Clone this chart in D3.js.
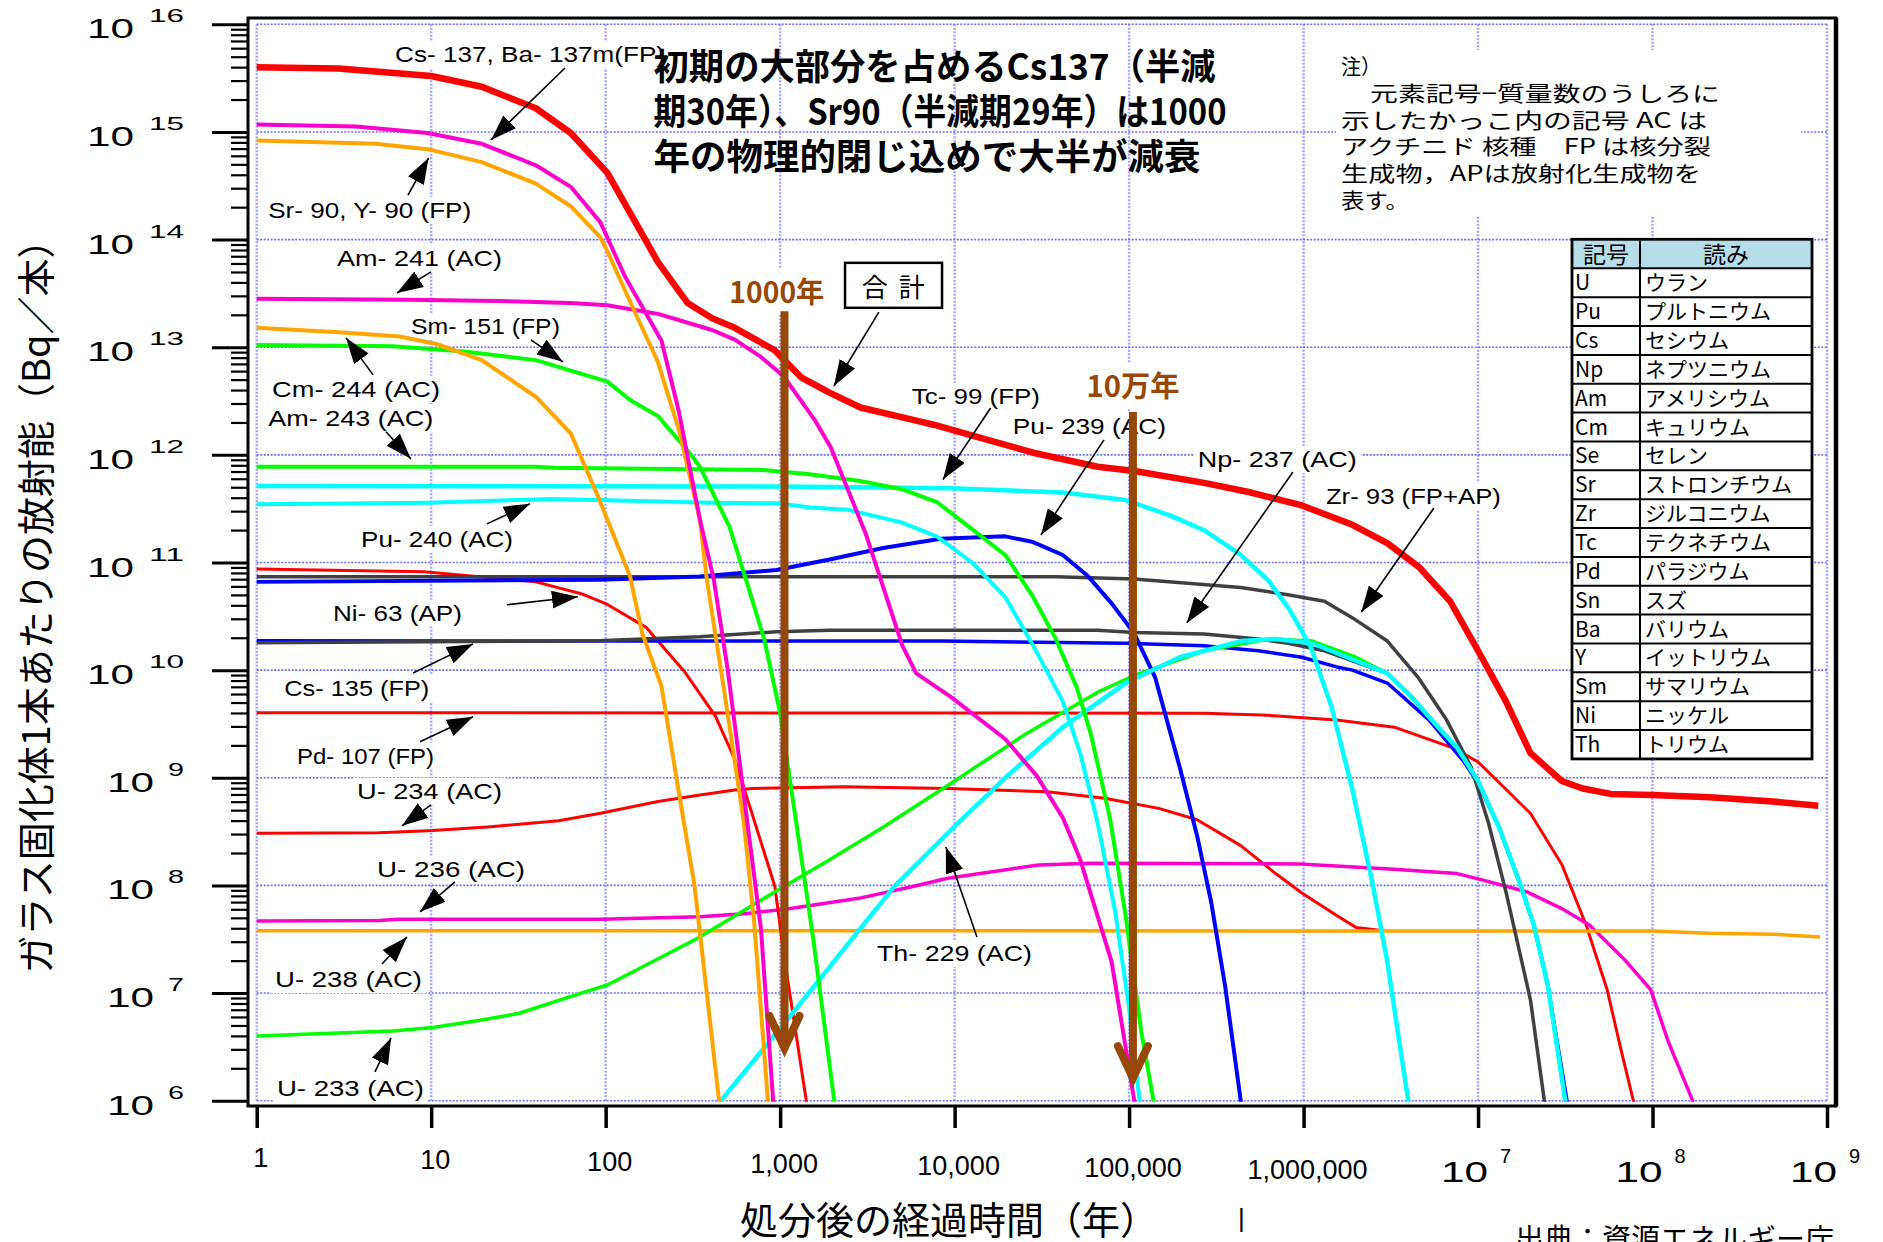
<!DOCTYPE html>
<html>
<head>
<meta charset="utf-8">
<script src="https://d3js.org/d3.v7.min.js"></script>
<style>
body { margin: 0; background: #fff; }
text { font-family: "Liberation Sans", Arial, sans-serif; fill: #000; }
.jp { font-family: "Noto Sans CJK JP", sans-serif; }
</style>
</head>
<body>
<div id="chart"></div>
<script>
// every point is [log10(years after disposal), log10(Bq per canister)]
var total  = [[0,15.60],[0.47,15.59],[1.0,15.52],[1.29,15.42],[1.6,15.22],[1.8,14.99],[2.01,14.62],[2.3,13.79],[2.47,13.41],[2.61,13.27],[2.74,13.18],[2.97,12.97],[3.12,12.72],[3.28,12.58],[3.46,12.44],[3.75,12.33],[3.88,12.28],[4.21,12.13],[4.45,12.02],[4.82,11.89],[5.03,11.85],[5.43,11.74],[5.70,11.65],[5.99,11.53],[6.28,11.35],[6.48,11.18],[6.66,10.96],[6.84,10.64],[7.0,10.18],[7.16,9.71],[7.30,9.23],[7.48,8.97],[7.60,8.90],[7.76,8.85],[8.0,8.84],[8.33,8.82],[8.69,8.78],[8.95,8.74]];
var cs137  = [[0,15.07],[0.57,15.05],[0.98,14.99],[1.29,14.89],[1.6,14.69],[1.8,14.49],[1.97,14.16],[2.11,13.66],[2.32,13.06],[2.42,12.40],[2.54,11.40],[2.62,10.84],[2.70,10.0],[2.81,8.61],[2.89,7.6],[2.96,6.0],[3.0,5.3]];
var sr90   = [[0,14.92],[0.68,14.89],[0.98,14.84],[1.29,14.72],[1.6,14.52],[1.8,14.31],[1.97,14.02],[2.01,13.89],[2.13,13.46],[2.3,12.86],[2.42,12.23],[2.54,11.40],[2.58,10.84],[2.68,9.8],[2.79,8.61],[2.85,7.68],[2.93,6.0],[2.96,5.4]];
var am241  = [[0,13.45],[0.86,13.44],[1.39,13.43],[1.8,13.41],[2.01,13.39],[2.3,13.31],[2.61,13.16],[2.74,13.07],[2.89,12.91],[3.02,12.73],[3.2,12.32],[3.29,12.07],[3.49,11.27],[3.70,10.23],[3.78,9.97],[3.98,9.75],[4.29,9.36],[4.47,9.02],[4.62,8.63],[4.72,8.24],[4.90,7.29],[5.03,6.0],[5.07,5.6]];
var cm244  = [[0,13.18],[0.47,13.14],[0.82,13.10],[1.03,13.03],[1.29,12.88],[1.6,12.54],[1.8,12.2],[1.96,11.6],[2.14,10.87],[2.21,10.34],[2.32,9.85],[2.42,8.86],[2.51,7.99],[2.65,6.0],[2.7,5.5]];
var sm151  = [[0,13.02],[0.78,13.01],[1.19,12.96],[1.6,12.88],[2.01,12.68],[2.14,12.51],[2.3,12.36],[2.48,12.02],[2.54,11.89],[2.71,11.33],[2.81,10.81],[2.91,10.28],[3.0,9.6],[3.09,8.61],[3.19,7.5],[3.31,6.0],[3.34,5.6]];
var am243  = [[0,11.89],[1.6,11.89],[1.7,11.88],[2.9,11.86],[3.17,11.82],[3.45,11.76],[3.7,11.68],[3.9,11.56],[4.1,11.31],[4.29,11.07],[4.45,10.68],[4.58,10.29],[4.7,9.84],[4.78,9.41],[4.89,8.63],[4.98,7.72],[5.07,6.64],[5.14,6.0],[5.17,5.7]];
var tc99   = [[0,11.71],[3.0,11.705],[3.98,11.69],[4.62,11.65],[4.98,11.58],[5.23,11.44],[5.43,11.30],[5.64,11.07],[5.80,10.83],[5.92,10.56],[6.04,10.22],[6.16,9.66],[6.28,8.89],[6.40,7.98],[6.48,7.29],[6.54,6.64],[6.60,6.0],[6.63,5.6]];
var pu240  = [[0,11.54],[0.98,11.556],[1.7,11.59],[2.62,11.556],[2.99,11.55],[3.17,11.51],[3.39,11.49],[3.7,11.37],[3.9,11.24],[4.1,11.0],[4.29,10.68],[4.45,10.23],[4.62,9.71],[4.72,9.23],[4.82,8.58],[4.92,7.76],[5.0,6.86],[5.06,6.0],[5.09,5.6]];
var pu239  = [[0,10.82],[1.96,10.84],[2.54,10.87],[2.98,10.93],[3.29,11.03],[3.59,11.135],[3.92,11.22],[4.29,11.243],[4.45,11.19],[4.62,11.07],[4.76,10.88],[4.9,10.62],[5.03,10.34],[5.15,9.93],[5.29,9.10],[5.39,8.46],[5.47,7.85],[5.55,7.07],[5.64,6.0],[5.67,5.6]];
var zr93   = [[0,10.868],[4.58,10.867],[5.03,10.846],[5.64,10.768],[5.91,10.70],[6.12,10.64],[6.3,10.465],[6.48,10.27],[6.66,9.925],[6.82,9.536],[6.96,9.10],[7.06,8.58],[7.16,7.94],[7.30,6.94],[7.38,6.0],[7.41,5.6]];
var np237  = [[0,10.255],[1.96,10.273],[2.54,10.31],[2.98,10.357],[3.29,10.37],[4.82,10.37],[5.03,10.35],[5.43,10.336],[5.74,10.29],[5.91,10.25],[6.12,10.18],[6.48,9.97],[6.62,9.75],[6.76,9.49],[6.88,9.276],[7.0,8.97],[7.12,8.54],[7.24,8.02],[7.32,7.63],[7.40,7.07],[7.50,6.0],[7.53,5.6]];
var cs135  = [[0,10.273],[2.98,10.27],[3.92,10.27],[4.98,10.25],[5.43,10.227],[5.74,10.18],[5.99,10.12],[6.19,10.03],[6.28,10.0],[6.48,9.88],[6.72,9.536],[6.92,9.147],[7.0,8.95],[7.12,8.54],[7.24,8.02],[7.32,7.63],[7.40,7.07],[7.51,6.0],[7.54,5.6]];
var u233   = [[0,6.60],[0.78,6.647],[1.01,6.68],[1.29,6.75],[1.5,6.81],[1.86,7.0],[2.01,7.075],[2.29,7.31],[2.54,7.52],[2.99,7.96],[3.25,8.205],[3.59,8.54],[4.0,8.97],[4.41,9.41],[4.82,9.795],[5.03,9.95],[5.43,10.18],[5.80,10.29],[6.05,10.27],[6.3,10.12],[6.48,9.97],[6.62,9.75],[6.76,9.49],[6.88,9.28],[7.0,8.97],[7.12,8.54],[7.24,8.02],[7.32,7.63],[7.40,7.07],[7.50,6.0],[7.53,5.6]];
var th229  = [[2.62,5.5],[2.66,6.0],[3.04,6.75],[3.45,7.58],[3.66,8.0],[4.0,8.55],[4.29,9.0],[4.62,9.47],[4.98,9.88],[5.29,10.12],[5.64,10.27],[5.84,10.29],[6.05,10.25],[6.28,10.1],[6.48,9.97],[6.62,9.75],[6.76,9.49],[6.88,9.28],[7.0,8.97],[7.12,8.54],[7.24,8.02],[7.32,7.63],[7.40,7.07],[7.50,6.0],[7.53,5.6]];
var ni63   = [[0,10.94],[0.96,10.915],[1.6,10.82],[1.86,10.71],[2.01,10.61],[2.23,10.40],[2.45,9.99],[2.63,9.57],[2.74,9.17],[2.85,8.61],[2.97,7.99],[3.02,7.37],[3.15,6.0],[3.18,5.6]];
var pd107  = [[0,9.605],[5.43,9.60],[5.80,9.58],[6.19,9.536],[6.52,9.47],[6.86,9.276],[7.0,9.147],[7.30,8.67],[7.48,8.195],[7.62,7.63],[7.74,7.03],[7.82,6.47],[7.89,6.0],[7.93,5.6]];
var u234   = [[0,8.484],[0.70,8.49],[1.01,8.51],[1.34,8.545],[1.73,8.60],[1.97,8.67],[2.30,8.78],[2.54,8.84],[2.74,8.887],[2.84,8.90],[3.37,8.917],[3.96,8.90],[4.53,8.87],[4.86,8.81],[5.17,8.716],[5.39,8.61],[5.64,8.37],[5.84,8.11],[5.99,7.93],[6.19,7.72],[6.30,7.61],[6.46,7.579]];
var u238   = [[0,7.579],[8.0,7.577],[8.33,7.556],[8.69,7.547],[8.96,7.52]];
var u236   = [[0,7.67],[0.7,7.675],[0.81,7.685],[1.97,7.685],[2.54,7.71],[2.81,7.74],[3.04,7.78],[3.45,7.88],[3.76,7.99],[3.96,8.066],[4.48,8.19],[4.78,8.205],[5.98,8.20],[6.52,8.15],[6.88,8.11],[7.04,8.045],[7.28,7.94],[7.48,7.785],[7.64,7.63],[7.84,7.31],[7.99,7.03],[8.09,6.55],[8.23,6.0],[8.26,5.7]];

var tableSymbols  = ["U","Pu","Cs","Np","Am","Cm","Se","Sr","Zr","Tc","Pd","Sn","Ba","Y","Sm","Ni","Th"];
var tableReadings = ["ウラン","プルトニウム","セシウム","ネプツニウム","アメリシウム","キュリウム","セレン","ストロンチウム","ジルコニウム","テクネチウム","パラジウム","スズ","バリウム","イットリウム","サマリウム","ニッケル","トリウム"];

var RED = "#ff0000", MAG = "#ff00cc", ORA = "#ffa500", GRN = "#00ff00",
    CYA = "#00ffff", BLU = "#0000ff", GRY = "#404040", BRN = "#974806";

// drawing order and style of each series
var series = [
  {d: pd107, c: RED, w: 3}, {d: u234, c: RED, w: 3}, {d: u236, c: MAG, w: 3.5},
  {d: u238, c: ORA, w: 3.5}, {d: ni63, c: RED, w: 3}, {d: cs135, c: BLU, w: 3.5},
  {d: np237, c: GRY, w: 3.5}, {d: u233, c: GRN, w: 3.5}, {d: zr93, c: GRY, w: 3.5},
  {d: pu239, c: BLU, w: 4}, {d: th229, c: CYA, w: 4.5}, {d: tc99, c: CYA, w: 4.5},
  {d: pu240, c: CYA, w: 4}, {d: am243, c: GRN, w: 4}, {d: sm151, c: GRN, w: 4},
  {d: cm244, c: ORA, w: 4}, {d: am241, c: MAG, w: 4}, {d: sr90, c: ORA, w: 4},
  {d: cs137, c: MAG, w: 4}, {d: total, c: RED, w: 6.5}
];

// nuclide labels: text start and arrows in the same log10 units
var labels = [
  {t: "Cs- 137, Ba- 137m(FP)", at: [0.793,15.65], w: 270, from: [1.767,15.594], to: [1.343,14.925]},
  {t: "Sr- 90, Y- 90 (FP)", at: [0.066,14.20], w: 203, from: [0.867,14.413], to: [0.985,14.758]},
  {t: "Am- 241 (AC)", at: [0.46,13.755], w: 165, from: [0.9985,13.70], to: [0.804,13.504]},
  {t: "Sm- 151 (FP)", at: [0.884,13.124], w: 149, from: [1.572,13.068], to: [1.755,12.864]},
  {t: "Cm- 244 (AC)", at: [0.088,12.539], w: 168, from: [0.667,12.743], to: [0.512,13.087]},
  {t: "Am- 243 (AC)", at: [0.066,12.27], w: 165, from: [0.741,12.214], to: [0.884,11.963]},
  {t: "Pu- 240 (AC)", at: [0.598,11.146], w: 152, from: [1.32,11.359], to: [1.566,11.545]},
  {t: "Ni- 63 (AP)", at: [0.437,10.459], w: 129, from: [1.434,10.607], to: [1.841,10.682]},
  {t: "Cs- 135 (FP)", at: [0.158,9.762], w: 145, from: [0.896,9.974], to: [1.24,10.244]},
  {t: "Pd- 107 (FP)", at: [0.231,9.13], w: 137, from: [0.936,9.334], to: [1.24,9.567]},
  {t: "U- 234 (AC)", at: [0.575,8.805], w: 145, from: [0.999,8.749], to: [0.833,8.554]},
  {t: "U- 236 (AC)", at: [0.69,8.08], w: 148, from: [1.136,8.033], to: [0.936,7.754]},
  {t: "U- 238 (AC)", at: [0.105,7.056], w: 147, from: [0.718,7.27], to: [0.861,7.52]},
  {t: "U- 233 (AC)", at: [0.116,6.044], w: 147, from: [0.678,6.267], to: [0.77,6.583]},
  {t: "Tc- 99 (FP)", at: [3.755,12.473], w: 128, from: [4.206,12.435], to: [3.933,11.77]},
  {t: "Pu- 239 (AC)", at: [4.334,12.195], w: 153, from: [4.856,12.139], to: [4.495,11.256]},
  {t: "Np- 237 (AC)", at: [5.394,11.888], w: 159, from: [5.939,11.841], to: [5.331,10.438]},
  {t: "Zr- 93 (FP+AP)", at: [6.128,11.544], w: 175, from: [6.747,11.507], to: [6.331,10.54]},
  {t: "Th- 229 (AC)", at: [3.555,7.297], w: 155, from: [4.128,7.52], to: [3.95,8.356]}
];

var width = 1883, height = 1242;
var svg = d3.select("#chart").append("svg")
    .attr("width", width).attr("height", height);

var x = d3.scaleLog().domain([1, 1e9]).range([256.7, 1827]);
var y = d3.scaleLog().domain([1e6, 1e16]).range([1100.7, 24.3]);
var X = function(p) { return x(Math.pow(10, p[0])); };
var Y = function(p) { return y(Math.pow(10, p[1])); };

var defs = svg.append("defs");
defs.append("clipPath").attr("id", "plotclip").append("rect")
    .attr("x", 240).attr("y", 10).attr("width", 1600).attr("height", 1100.7 - 10 + 1);
defs.append("marker").attr("id", "ah")
    .attr("viewBox", "0 0 10 10").attr("refX", 10).attr("refY", 5)
    .attr("markerUnits", "userSpaceOnUse").attr("markerWidth", 26).attr("markerHeight", 18)
    .attr("orient", "auto").attr("preserveAspectRatio", "none")
  .append("path").attr("d", "M0,0L10,5L0,10z").attr("fill", "#000");

// grid
var xDec = d3.range(0, 10), yDec = d3.range(6, 17);
var grid = svg.append("g");
grid.selectAll(".gv").data(xDec).enter().append("line")
    .attr("x1", function(d) { return x(Math.pow(10, d)); })
    .attr("x2", function(d) { return x(Math.pow(10, d)); })
    .attr("y1", y(1e16)).attr("y2", y(1e6))
    .attr("stroke", "#a4a4ff").attr("stroke-width", 2.5).attr("stroke-dasharray", "2,1.5");
grid.selectAll(".gh").data(yDec).enter().append("line")
    .attr("x1", x(1)).attr("x2", x(1e9))
    .attr("y1", function(d) { return y(Math.pow(10, d)); })
    .attr("y2", function(d) { return y(Math.pow(10, d)); })
    .attr("stroke", "#6c6cf4").attr("stroke-width", 1.6).attr("stroke-dasharray", "2,1.5");

// white boxes behind labels
var bg = svg.append("g");
bg.append("rect").attr("x", 1336).attr("y", 50).attr("width", 465).attr("height", 166).attr("fill", "#fff");

// curves
var line = d3.line().x(X).y(Y);
svg.append("g").attr("clip-path", "url(#plotclip)")
  .selectAll("path").data(series).enter().append("path")
    .attr("d", function(s) { return line(s.d); })
    .attr("fill", "none")
    .attr("stroke", function(s) { return s.c; })
    .attr("stroke-width", function(s) { return s.w; })
    .attr("stroke-linejoin", "round");

// axes
var yMajor = yDec.map(function(d) { return Math.pow(10, d); });
var yMinor = [];
d3.range(6, 16).forEach(function(d) { d3.range(2, 10).forEach(function(m) { yMinor.push(m * Math.pow(10, d)); }); });
svg.append("g").attr("transform", "translate(248,0)")
    .call(d3.axisLeft(y).tickValues(yMinor).tickSize(17).tickFormat(""))
    .call(function(g) { g.select(".domain").remove(); g.selectAll("line").attr("stroke-width", 2.2); });
svg.append("g").attr("transform", "translate(248,0)")
    .call(d3.axisLeft(y).tickValues(yMajor).tickSize(36).tickFormat(""))
    .call(function(g) { g.select(".domain").remove(); g.selectAll("line").attr("stroke-width", 3); });
svg.append("g").attr("transform", "translate(0,1106)")
    .call(d3.axisBottom(x).tickValues(xDec.map(function(d) { return Math.pow(10, d); })).tickSize(22).tickFormat(""))
    .call(function(g) { g.select(".domain").remove(); g.selectAll("line").attr("stroke-width", 3.5); });

// frame
svg.append("path").attr("d", "M248,18H1836V1106H248Z")
    .attr("fill", "none").attr("stroke", "#000").attr("stroke-width", 3);
svg.append("line").attr("x1", 1836).attr("x2", 1836).attr("y1", 18).attr("y2", 1106)
    .attr("stroke", "#000").attr("stroke-width", 4.5);

// y tick labels
yDec.forEach(function(e) {
  var ty = y(Math.pow(10, e)), two = e >= 10;
  svg.append("text").attr("x", two ? 87 : 107).attr("y", ty + 14)
      .attr("font-size", 27).attr("textLength", 47).attr("lengthAdjust", "spacingAndGlyphs").text("10");
  svg.append("text").attr("x", two ? 149 : 168).attr("y", ty - 2)
      .attr("font-size", 18).attr("textLength", two ? 35 : 16).attr("lengthAdjust", "spacingAndGlyphs").text(e);
});

// x tick labels
var fmt = d3.format(",");
d3.range(0, 7).forEach(function(e) {
  svg.append("text").attr("x", x(Math.pow(10, e)) + 4).attr("y", 1167 + 2 * e)
      .attr("text-anchor", "middle").attr("font-size", 27).text(fmt(Math.pow(10, e)));
});
d3.range(7, 10).forEach(function(e) {
  var tx = x(Math.pow(10, e));
  svg.append("text").attr("x", tx - 37).attr("y", 1182)
      .attr("font-size", 30).attr("textLength", 47).attr("lengthAdjust", "spacingAndGlyphs").text("10");
  svg.append("text").attr("x", tx + 22).attr("y", 1163).attr("font-size", 20).text(e);
});

// axis titles
svg.append("text").attr("class", "jp").attr("transform", "translate(50,597) rotate(-90)")
    .attr("text-anchor", "middle").attr("font-size", 38).text("ガラス固化体1本あたりの放射能（Bq／本）");
svg.append("text").attr("class", "jp").attr("x", 949).attr("y", 1234)
    .attr("text-anchor", "middle").attr("font-size", 38).text("処分後の経過時間（年）");
svg.append("text").attr("x", 1238).attr("y", 1227).attr("font-size", 26).text("|");
svg.append("text").attr("class", "jp").attr("x", 1834).attr("y", 1250)
    .attr("text-anchor", "end").attr("font-size", 29).text("出典：資源エネルギー庁");

// nuclide labels and arrows
var ann = svg.append("g");
labels.forEach(function(l) {
  var t = ann.append("text").attr("x", X(l.at)).attr("y", Y(l.at))
      .attr("font-size", 22).attr("textLength", l.w).attr("lengthAdjust", "spacingAndGlyphs").text(l.t);
  var b = t.node().getBBox();
  bg.append("rect").attr("x", b.x - 4).attr("y", b.y - 1).attr("width", b.width + 8).attr("height", b.height + 2).attr("fill", "#fff");
  ann.append("line").attr("x1", X(l.from)).attr("y1", Y(l.from)).attr("x2", X(l.to)).attr("y2", Y(l.to))
      .attr("stroke", "#000").attr("stroke-width", 1.6).attr("marker-end", "url(#ah)");
});

// total box
var boxA = [3.372, 13.784], boxB = [3.928, 13.366];
ann.append("rect").attr("x", X(boxA)).attr("y", Y(boxA))
    .attr("width", X(boxB) - X(boxA)).attr("height", Y(boxB) - Y(boxA))
    .attr("fill", "#fff").attr("stroke", "#000").attr("stroke-width", 2.5);
ann.append("text").attr("class", "jp").attr("x", X([3.649, 0])).attr("y", Y([0, 13.4665]))
    .attr("text-anchor", "middle").attr("font-size", 26)
    .attr("textLength", 63).attr("lengthAdjust", "spacing").text("合計");
ann.append("line").attr("x1", X([3.566, 13.326])).attr("y1", Y([3.566, 13.326]))
    .attr("x2", X([3.308, 12.64])).attr("y2", Y([3.308, 12.64]))
    .attr("stroke", "#000").attr("stroke-width", 1.6).attr("marker-end", "url(#ah)");

// brown period markers
var periods = [
  {t: "1000年", at: [2.709, 13.411], w: 95, lx: 3.025, top: 13.335, tip: 6.49},
  {t: "10万年", at: [4.756, 12.54], w: 93, lx: 5.022, top: 12.398, tip: 6.21}
];
periods.forEach(function(p) {
  var t = ann.append("text").attr("class", "jp").attr("x", X(p.at)).attr("y", Y(p.at))
      .attr("font-size", 29).attr("font-weight", 700).style("fill", BRN)
      .attr("textLength", p.w).attr("lengthAdjust", "spacingAndGlyphs").text(p.t);
  var b = t.node().getBBox();
  bg.append("rect").attr("x", b.x - 2).attr("y", b.y).attr("width", b.width + 4).attr("height", b.height + 4).attr("fill", "#fff");
  var px = X([p.lx, 0]), pt = Y([0, p.top]), pe = Y([0, p.tip]);
  ann.append("line").attr("x1", px).attr("x2", px).attr("y1", pt).attr("y2", pe - 4)
      .attr("stroke", BRN).attr("stroke-width", 8);
  ann.append("path").attr("d", "M" + (px - 15) + "," + (pe - 32) + "L" + px + "," + pe + "L" + (px + 15) + "," + (pe - 32))
      .attr("fill", "none").attr("stroke", BRN).attr("stroke-width", 8).attr("stroke-linecap", "round");
});

// main message
var msg = ["初期の大部分を占めるCs137（半減", "期30年）、Sr90（半減期29年）は1000", "年の物理的閉じ込めで大半が減衰"];
var msgY = [15.482, 15.064, 14.646], msgW = [562, 573, 547];
msg.forEach(function(m, i) {
  ann.append("text").attr("class", "jp").attr("x", X([2.2745, 0])).attr("y", Y([0, msgY[i]]))
      .attr("font-size", 36).attr("font-weight", 700)
      .attr("textLength", msgW[i]).attr("lengthAdjust", "spacingAndGlyphs").text(m);
});

// note
var note = ["注）", "元素記号−質量数のうしろに", "示したかっこ内の記号 AC は", "アクチニド 核種　FP は核分裂", "生成物，APは放射化生成物を", "表す。"];
var noteX = [1341, 1370, 1341, 1341, 1341, 1341], noteW = [40, 350, 366, 370, 360, 68];
note.forEach(function(n, i) {
  svg.append("text").attr("class", "jp").attr("x", noteX[i]).attr("y", 74 + i * 26.8)
      .attr("font-size", 21).attr("textLength", noteW[i]).attr("lengthAdjust", "spacingAndGlyphs").text(n);
});

// reading table
var tx0 = 1572, tx1 = 1640, tx2 = 1812, ty0 = 239.3, hh = 29, rh = 28.86;
var tb = svg.append("g");
var tyEnd = ty0 + hh + rh * tableSymbols.length;
tb.append("rect").attr("x", tx0).attr("y", ty0).attr("width", tx2 - tx0).attr("height", tyEnd - ty0).attr("fill", "#fff");
tb.append("rect").attr("x", tx0).attr("y", ty0).attr("width", tx2 - tx0).attr("height", hh).attr("fill", "#b7dde8");
tb.append("text").attr("class", "jp").attr("x", (tx0 + tx1) / 2).attr("y", ty0 + 24)
    .attr("text-anchor", "middle").attr("font-size", 23).text("記号");
tb.append("text").attr("class", "jp").attr("x", (tx1 + tx2) / 2).attr("y", ty0 + 24)
    .attr("text-anchor", "middle").attr("font-size", 23).text("読み");
tableSymbols.forEach(function(s, i) {
  var top = ty0 + hh + rh * i;
  tb.append("line").attr("x1", tx0).attr("x2", tx2).attr("y1", top).attr("y2", top)
      .attr("stroke", "#000").attr("stroke-width", 2);
  tb.append("text").attr("class", "jp").attr("x", tx0 + 3).attr("y", top + 22).attr("font-size", 21).text(s);
  tb.append("text").attr("class", "jp").attr("x", tx1 + 5).attr("y", top + 22).attr("font-size", 21).text(tableReadings[i]);
});
tb.append("line").attr("x1", tx1).attr("x2", tx1).attr("y1", ty0).attr("y2", tyEnd)
    .attr("stroke", "#000").attr("stroke-width", 2);
tb.append("rect").attr("x", tx0).attr("y", ty0).attr("width", tx2 - tx0).attr("height", tyEnd - ty0)
    .attr("fill", "none").attr("stroke", "#000").attr("stroke-width", 2.8);
</script>
</body>
</html>
